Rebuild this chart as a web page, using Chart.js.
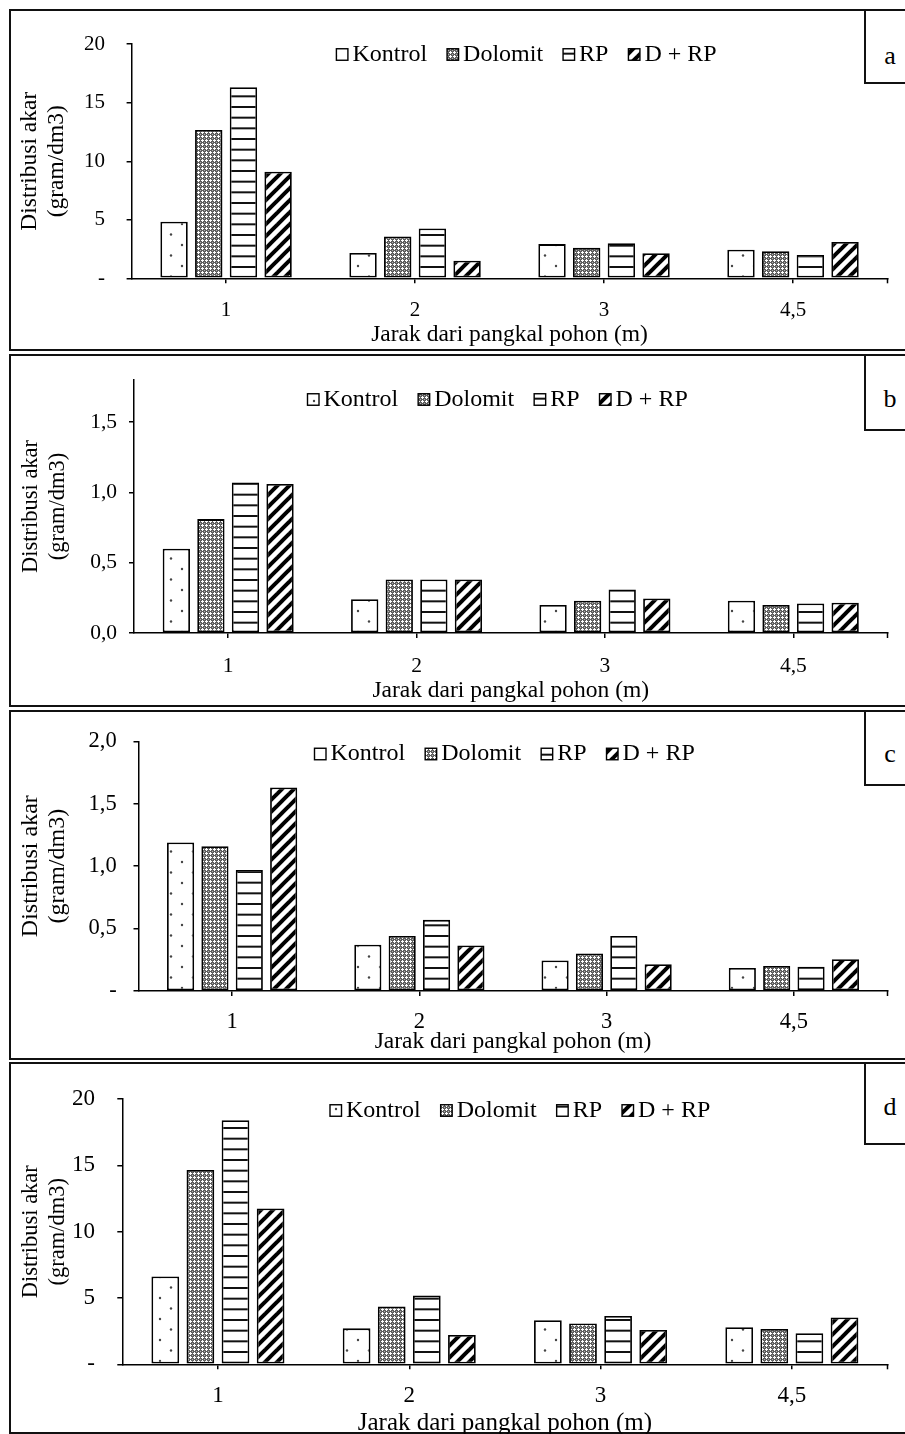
<!DOCTYPE html>
<html>
<head>
<meta charset="utf-8">
<script src="https://cdn.jsdelivr.net/npm/chart.js@4.4.0/dist/chart.umd.min.js"></script>
<style>
  html, body { margin:0; padding:0; background:#fff; }
  body { width:905px; height:1434px; position:relative; overflow:hidden; }
  .panel { position:absolute; border:2px solid #111; box-sizing:border-box; }
  .letter { position:absolute; border:2px solid #111; box-sizing:border-box; }
  .lt { position:absolute; width:50px; text-align:center; font-family:'Liberation Serif','Times New Roman',serif; font-size:26px; line-height:26px; color:#000; }
  canvas { position:absolute; left:0; }
</style>
</head>
<body>
<div class="panel" style="left:9px; top:9px; width:920px; height:342px;"></div>
<div class="panel" style="left:9px; top:354px; width:920px; height:353px;"></div>
<div class="panel" style="left:9px; top:710px; width:920px; height:350px;"></div>
<div class="panel" style="left:9px; top:1062px; width:920px; height:372px;"></div>

<div class="letter" style="left:864px; top:9px; width:60px; height:75px;"></div>
<div class="letter" style="left:864px; top:354px; width:60px; height:77px;"></div>
<div class="letter" style="left:864px; top:710px; width:60px; height:76px;"></div>
<div class="letter" style="left:864px; top:1062px; width:60px; height:83px;"></div>
<div class="lt" style="left:865px; top:43px;">a</div>
<div class="lt" style="left:865px; top:386px;">b</div>
<div class="lt" style="left:865px; top:741px;">c</div>
<div class="lt" style="left:865px; top:1094px;">d</div>

<canvas id="ca" width="905" height="360" style="top:10px;width:905px;height:360px;"></canvas>
<canvas id="cb" width="905" height="370" style="top:355px;width:905px;height:370px;"></canvas>
<canvas id="cc" width="905" height="368" style="top:711px;width:905px;height:368px;"></canvas>
<canvas id="cd" width="905" height="390" style="top:1063px;width:905px;height:390px;"></canvas>

<script>
// ---------------- DATA ----------------
const categories = ['1', '2', '3', '4,5'];
const seriesNames = ['Kontrol', 'Dolomit', 'RP', 'D + RP'];
const xTitle = 'Jarak dari pangkal pohon (m)';
const yTitle = ['Distribusi akar', '(gram/dm3)'];

// panel a
const kontrolA = [4.83, 2.17, 2.92, 2.44];
const dolomitA = [12.67, 3.58, 2.60, 2.31];
const rpA      = [16.33, 4.25, 3.00, 1.99];
const drpA     = [9.10, 1.51, 2.15, 3.10];
const yTicksA  = [0, 5, 10, 15, 20];
const yLabelsA = ['-', '5', '10', '15', '20'];

// panel b
const kontrolB = [0.60, 0.24, 0.20, 0.23];
const dolomitB = [0.81, 0.38, 0.23, 0.20];
const rpB      = [1.07, 0.38, 0.31, 0.21];
const drpB     = [1.06, 0.38, 0.245, 0.215];
const yTicksB  = [0, 0.5, 1.0, 1.5];
const yLabelsB = ['0,0', '0,5', '1,0', '1,5'];

// panel c
const kontrolC = [1.19, 0.37, 0.245, 0.185];
const dolomitC = [1.16, 0.44, 0.30, 0.20];
const rpC      = [0.97, 0.57, 0.44, 0.195];
const drpC     = [1.63, 0.365, 0.215, 0.255];
const yTicksC  = [0, 0.5, 1.0, 1.5, 2.0];
const yLabelsC = ['-', '0,5', '1,0', '1,5', '2,0'];

// panel d
const kontrolD = [6.62, 2.71, 3.32, 2.80];
const dolomitD = [14.65, 4.35, 3.08, 2.66];
const rpD      = [18.40, 5.18, 3.65, 2.35];
const drpD     = [11.75, 2.21, 2.59, 3.53];
const yTicksD  = [0, 5, 10, 15, 20];
const yLabelsD = ['-', '5', '10', '15', '20'];

// ---------------- STYLE / LAYOUT ----------------
const FAM = "'Liberation Serif','Times New Roman',Times,serif";

function makeTile(w, h, draw) {
  const c = document.createElement('canvas');
  c.width = w; c.height = h;
  const g = c.getContext('2d');
  g.fillStyle = '#fff'; g.fillRect(0, 0, w, h);
  draw(g);
  return c;
}
const tileK = makeTile(22, 21, g => {
  g.fillStyle = '#444';
  g.beginPath(); g.arc(6, 4, 1.2, 0, Math.PI * 2); g.fill();
  g.beginPath(); g.arc(17, 14.5, 1.2, 0, Math.PI * 2); g.fill();
});
const tileD = makeTile(4, 4, g => {
  g.fillStyle = '#5e5e5e'; g.fillRect(0, 0, 4, 4);
  g.fillStyle = '#fff';
  g.fillRect(2, 1, 1, 1); g.fillRect(1, 2, 3, 1); g.fillRect(2, 3, 1, 1);
  g.fillStyle = '#b0b0b0'; g.fillRect(0, 0, 1, 1);
});
const tileR = makeTile(4, 32, g => {
  g.fillStyle = '#111';
  g.fillRect(0, 0, 4, 2); g.fillRect(0, 10.67, 4, 2); g.fillRect(0, 21.33, 4, 2);
});
const tileS = makeTile(12, 12, g => {
  g.strokeStyle = '#000'; g.lineWidth = 4;
  for (let k = -1; k <= 1; k++) {
    g.beginPath(); g.moveTo(k * 12 - 2, 14); g.lineTo(k * 12 + 14, -2); g.stroke();
  }
});

const patLegend = {
  id: 'patLegend',
  afterDraw(chart, args, o) {
    const ctx = chart.ctx;
    ctx.save();
    ctx.font = o.size + 'px ' + FAM;
    ctx.textBaseline = 'middle'; ctx.textAlign = 'left';
    let x = o.x; const y = o.y, bs = o.box;
    chart.data.datasets.forEach(ds => {
      ctx.fillStyle = ds.backgroundColor;
      ctx.fillRect(x, y - bs / 2, bs, bs);
      ctx.strokeStyle = '#000'; ctx.lineWidth = 1.4;
      ctx.strokeRect(x, y - bs / 2, bs, bs);
      ctx.fillStyle = '#000';
      const tx = x + bs + o.gap;
      ctx.fillText(ds.label, tx, y);
      x = tx + ctx.measureText(ds.label).width + o.spacing;
    });
    ctx.restore();
  }
};
const endTick = {
  id: 'endTick',
  afterDraw(chart) {
    const a = chart.chartArea, ctx = chart.ctx;
    ctx.save(); ctx.strokeStyle = '#000'; ctx.lineWidth = 1.5;
    ctx.beginPath(); ctx.moveTo(a.right, a.bottom); ctx.lineTo(a.right, a.bottom + 5); ctx.stroke();
    ctx.restore();
  }
};

function makePanel(id, cfg, series, yTicks, yLabels, yMax) {
  const canvas = document.getElementById(id);
  const ctx = canvas.getContext('2d');
  const H = canvas.height;
  const L = 4;
  const lt = cfg.area.t - cfg.top, lb = cfg.area.b - cfg.top;
  const tiles = [tileK, tileD, tileR, tileS];
  const xLh = cfg.xTitleFont * 1.2;
  const yLh = cfg.yTitleFont * cfg.yTitleLH;
  const datasets = series.map((d, i) => ({
    label: seriesNames[i],
    data: d,
    backgroundColor: ctx.createPattern(tiles[i], 'repeat'),
    borderColor: '#000',
    borderWidth: 1.8,
    borderSkipped: false,
    categoryPercentage: 0.734,
    barPercentage: 0.79
  }));
  new Chart(ctx, {
    type: 'bar',
    data: { labels: categories, datasets },
    options: {
      responsive: false, animation: false, devicePixelRatio: 1,
      layout: { autoPadding: false, padding: { left: L, right: 905 - cfg.area.r, top: lt, bottom: 0 } },
      plugins: {
        legend: { display: false }, tooltip: { enabled: false }, title: { display: false },
        patLegend: { x: cfg.legendX, y: cfg.legendY - cfg.top, size: 24, box: 11.5, gap: 4.5, spacing: 20 }
      },
      scales: {
        x: {
          grid: { offset: false, drawOnChartArea: false, drawTicks: true, tickLength: 5, color: '#000', lineWidth: 1.5 },
          border: { color: '#000', width: 1.5 },
          ticks: { color: '#000', font: { family: FAM, size: cfg.tickFont }, maxRotation: 0, autoSkip: false,
                   padding: (cfg.xLabelCenter - 0.468 * cfg.tickFont) - cfg.area.b - 5 },
          title: { display: true, text: xTitle, color: '#000', font: { family: FAM, size: cfg.xTitleFont, lineHeight: 1.2 },
                   padding: { top: 0, bottom: H - xLh / 2 - (cfg.xTitleCenter - 1 - cfg.top) } },
          afterFit: s => { s.height = H - lb; }
        },
        y: {
          min: 0, max: yMax,
          afterBuildTicks: s => { s.ticks = yTicks.map(v => ({ value: v })); },
          grid: { drawOnChartArea: false, drawTicks: true, tickLength: 5, color: '#000', lineWidth: 1.5 },
          border: { color: '#000', width: 1.5 },
          ticks: { color: '#000', font: { family: FAM, size: cfg.tickFont },
                   padding: cfg.area.l - 5 - cfg.yLabelRight,
                   callback: (v, i) => yLabels[i] },
          title: { display: true, text: yTitle, color: '#000', font: { family: FAM, size: cfg.yTitleFont, lineHeight: cfg.yTitleLH },
                   padding: { top: cfg.yTitleX - L - yLh / 2, bottom: 0 } },
          afterFit: s => { s.width = cfg.area.l - L; }
        }
      }
    },
    plugins: [patLegend, endTick]
  });
}

makePanel('ca', { top: 10, area: { l: 131.6, r: 887.5, t: 27.3, b: 278.3 }, tickFont: 21, yLabelRight: 105,
  xLabelCenter: 308, xTitleCenter: 336, xTitleFont: 23.5, yTitleFont: 23.5, yTitleLH: 1.14, yTitleX: 30,
  legendX: 336.4, legendY: 54.5 }, [kontrolA, dolomitA, rpA, drpA], yTicksA, yLabelsA, 20);

makePanel('cb', { top: 355, area: { l: 134, r: 887.5, t: 372.7, b: 633 }, tickFont: 21.5, yLabelRight: 117,
  xLabelCenter: 663.3, xTitleCenter: 692, xTitleFont: 23.5, yTitleFont: 22.5, yTitleLH: 1.2, yTitleX: 31,
  legendX: 307.5, legendY: 399.5 }, [kontrolB, dolomitB, rpB, drpB], yTicksB, yLabelsB, 1.8);

makePanel('cc', { top: 711, area: { l: 138.5, r: 887.5, t: 727.6, b: 991 }, tickFont: 22.5, yLabelRight: 116.7,
  xLabelCenter: 1019, xTitleCenter: 1043, xTitleFont: 23.5, yTitleFont: 24, yTitleLH: 1.12, yTitleX: 31,
  legendX: 314.5, legendY: 754 }, [kontrolC, dolomitC, rpC, drpC], yTicksC, yLabelsC, 2.0);

makePanel('cd', { top: 1063, area: { l: 122.3, r: 887.5, t: 1081.3, b: 1364.3 }, tickFont: 23, yLabelRight: 95,
  xLabelCenter: 1393, xTitleCenter: 1424, xTitleFont: 25, yTitleFont: 22.5, yTitleLH: 1.2, yTitleX: 31,
  legendX: 330, legendY: 1110.5 }, [kontrolD, dolomitD, rpD, drpD], yTicksD, yLabelsD, 20);
</script>
</body>
</html>
